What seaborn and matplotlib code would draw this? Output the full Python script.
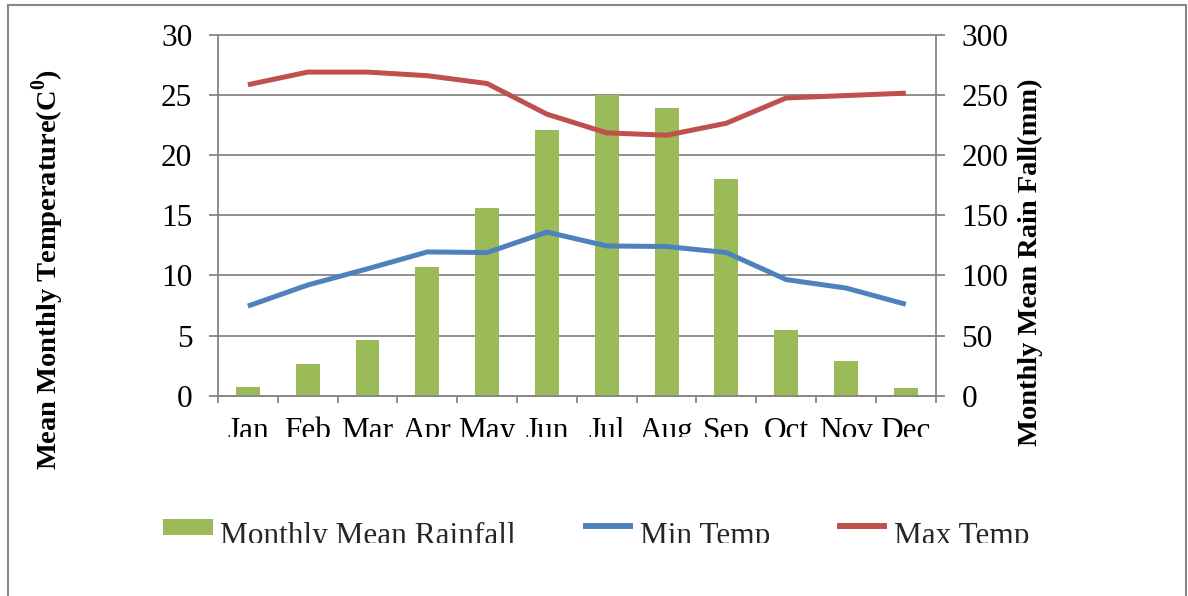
import numpy as np
import pandas as pd
import matplotlib
matplotlib.use("Agg")
import matplotlib.pyplot as plt
import seaborn as sns
from matplotlib.patches import Patch, Rectangle
from matplotlib.lines import Line2D
from matplotlib.legend_handler import HandlerPatch, HandlerLine2D
from matplotlib.transforms import Bbox, TransformedBbox

# Monthly climate data
months = ["Jan", "Feb", "Mar", "Apr", "May", "Jun",
          "Jul", "Aug", "Sep", "Oct", "Nov", "Dec"]
rainfall = [7.5, 26, 46, 107, 156, 221, 250, 239, 180, 54.5, 29, 6.5]
min_temp = [7.45, 9.2, 10.55, 11.95, 11.9, 13.6, 12.45, 12.4, 11.9, 9.65, 8.95, 7.6]
max_temp = [25.85, 26.9, 26.9, 26.6, 25.95, 23.4, 21.85, 21.65, 22.65, 24.75, 24.95, 25.15]

temp_ticks = [0, 5, 10, 15, 20, 25, 30]
rain_ticks = [0, 50, 100, 150, 200, 250, 300]

legend_labels = ["Monthly Mean Rainfall", "Min Temp", "Max Temp"]

GREEN = "#9BBB59"
BLUE = "#4F81BD"
RED = "#C0504D"
GRAY = "#868686"

df = pd.DataFrame({"month": months, "rain": rainfall,
                   "tmin": min_temp, "tmax": max_temp})
df["pos"] = np.arange(len(df))

sns.set_theme(style="white")
plt.rcParams["font.family"] = ["Liberation Serif", "DejaVu Serif"]
plt.rcParams["mathtext.fontset"] = "custom"
plt.rcParams["mathtext.rm"] = "Liberation Serif"
plt.rcParams["mathtext.bf"] = "Liberation Serif:bold"

W, H = 1188, 596
fig = plt.figure(figsize=(W / 100, H / 100), dpi=100)
fig.patch.set_facecolor("white")

x_left, x_right = 218.0, 935.7
y_top, y_bot = 34.8, 395.7
ax_t = fig.add_axes([x_left / W, 1 - y_bot / H,
                     (x_right - x_left) / W, (y_bot - y_top) / H])
ax_r = ax_t.twinx()
ax_t.set_zorder(2)
ax_r.set_zorder(1)
ax_t.patch.set_visible(False)

# Rainfall bars on the secondary axis (behind the temperature lines)
sns.barplot(data=df, x="month", y="rain", ax=ax_r, color=GREEN,
            saturation=1, width=0.4, linewidth=0, errorbar=None)

# Temperature lines on the primary axis
line_kw = dict(linewidth=3.6, solid_capstyle="butt", solid_joinstyle="round")
sns.lineplot(data=df, x="pos", y="tmin", ax=ax_t, color=BLUE, **line_kw)
sns.lineplot(data=df, x="pos", y="tmax", ax=ax_t, color=RED, **line_kw)

# Axis limits and ticks
ax_t.set_xlim(-0.5, len(months) - 0.5)
ax_t.set_ylim(0, 30)
ax_r.set_ylim(0, 300)
ax_t.set_yticks(temp_ticks)
ax_r.set_yticks(rain_ticks)

ax_t.set_xticks(np.arange(-0.5, len(months), 1.0))
ax_t.set_xticklabels([])
ax_t.set_xticks(df["pos"], minor=True)
ax_t.set_xticklabels(months, minor=True)
ax_t.set_xlabel("")
ax_r.set_xlabel("")

ax_t.tick_params(axis="x", which="major", length=5, width=1.3, color=GRAY,
                 direction="out", bottom=True, labelbottom=False)
ax_t.tick_params(axis="x", which="minor", length=0, pad=15,
                 labelsize=22.5, labelcolor="black")
ax_t.tick_params(axis="y", which="major", left=True, length=6.5, width=1.3,
                 color=GRAY, direction="out", pad=12, labelsize=22.5,
                 labelcolor="black")
ax_r.tick_params(axis="y", which="major", right=True, length=6.5, width=1.3,
                 color=GRAY, direction="out", pad=12, labelsize=22.5,
                 labelcolor="black")

# Horizontal gridlines behind the bars
ax_r.grid(axis="y", color=GRAY, linewidth=1.3)
ax_r.grid(axis="x", visible=False)
ax_t.grid(False)
ax_r.set_axisbelow(True)

for s in ax_r.spines.values():
    s.set_visible(False)
ax_t.spines["top"].set_visible(False)
for side in ("left", "right", "bottom"):
    ax_t.spines[side].set_color(GRAY)
    ax_t.spines[side].set_linewidth(1.3)

# Axis titles
ax_t.set_ylabel("Mean Monthly Temperature(C$^{\\mathbf{0}}$)",
                fontsize=20.5, fontweight="bold", color="black")
ax_r.set_ylabel("Monthly Mean Rain Fall(mm)",
                fontsize=20.5, fontweight="bold", color="black")
pw, ph = x_right - x_left, y_bot - y_top
ax_t.yaxis.set_label_coords((48 - x_left) / pw, (y_bot - 269) / ph)
ax_r.yaxis.set_label_coords((1030 - x_left) / pw, (y_bot - 262) / ph)
ax_t.yaxis.label.set_va("center")
ax_r.yaxis.label.set_va("center")

# Legend below the plot; keys sit a little above the middle of the text
PATCH_LIFT = 4.1   # points
LINE_LIFT = 5.6    # points


def lifted_rect(legend, orig_handle, xdescent, ydescent, width, height, fontsize):
    return Rectangle((-xdescent, -ydescent + PATCH_LIFT), width, height)


class LiftedLine(HandlerLine2D):
    def create_artists(self, legend, orig_handle, xdescent, ydescent,
                       width, height, fontsize, trans):
        return super().create_artists(legend, orig_handle, xdescent,
                                      ydescent - 2 * LINE_LIFT, width, height,
                                      fontsize, trans)


handles = [Patch(facecolor=GREEN, edgecolor="none"),
           Line2D([], [], color=BLUE, linewidth=4.3, solid_capstyle="butt"),
           Line2D([], [], color=RED, linewidth=4.3, solid_capstyle="butt")]
leg = fig.legend(handles, legend_labels, loc="center",
                 bbox_to_anchor=(0.502, 1 - 536 / H), ncol=3, frameon=False,
                 fontsize=22.5, handlelength=1.6, handleheight=0.4,
                 handletextpad=0.22, columnspacing=2.15, borderaxespad=0,
                 handler_map={Patch: HandlerPatch(patch_func=lifted_rect),
                              Line2D: LiftedLine()})

# Chart border (top, left, right)
bx0, bx1, by = 7.5 / W, 1186 / W, 1 - 4.5 / H
for xs, ys in (([bx0, bx1], [by, by]), ([bx0, bx0], [0, by]), ([bx1, bx1], [0, by])):
    fig.add_artist(Line2D(xs, ys, transform=fig.transFigure,
                          color=GRAY, linewidth=1.5))

fig.canvas.draw()

# Text boxes cut off at the bottom, as in the original chart
month_clip = TransformedBbox(Bbox([[0, (H - 437) / H], [1, 1]]), fig.transFigure)
for lab in ax_t.get_xticklabels(minor=True):
    lab.set_clip_box(month_clip)
    lab.set_clip_on(True)
legend_clip = TransformedBbox(Bbox([[0, (H - 543) / H], [1, 1]]), fig.transFigure)
for t in leg.get_texts():
    t.set_clip_box(legend_clip)
    t.set_clip_on(True)
for gl in ax_r.get_ygridlines():
    gl.set_clip_on(False)

fig.savefig("out.png", dpi=100, facecolor="white")
